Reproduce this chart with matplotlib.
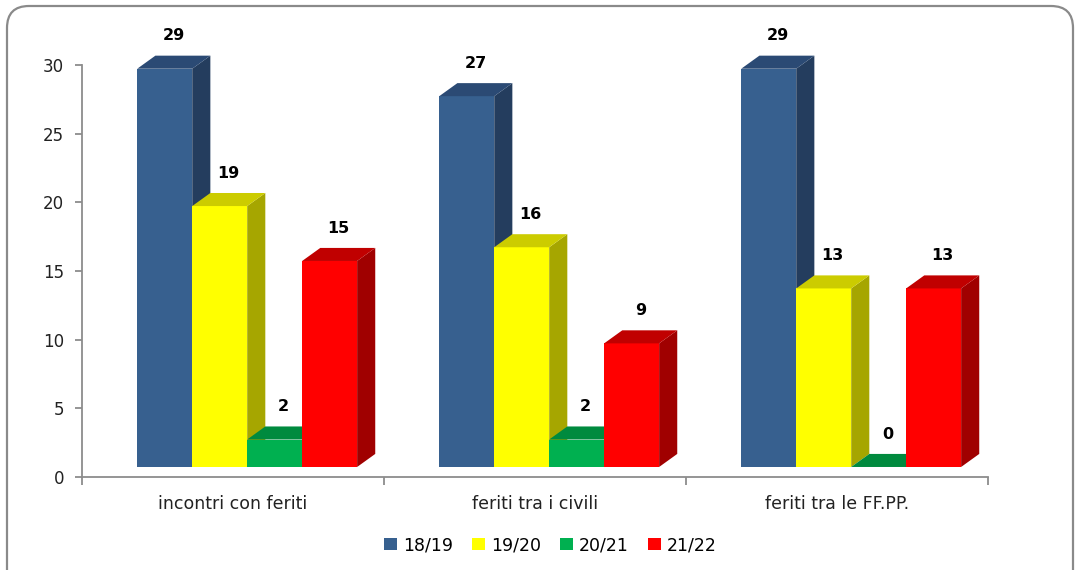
import matplotlib
matplotlib.use("Agg")
import matplotlib.pyplot as plt
from matplotlib.patches import Polygon, FancyBboxPatch, Patch
from matplotlib.transforms import IdentityTransform

categories = ["incontri con feriti", "feriti tra i civili", "feriti tra le FF.PP."]
seasons = ["18/19", "19/20", "20/21", "21/22"]
values = {
    "18/19": [29, 27, 29],
    "19/20": [19, 16, 13],
    "20/21": [2, 2, 0],
    "21/22": [15, 9, 13],
}
yticks = [0, 5, 10, 15, 20, 25, 30]

# front, side, top shades for each season
colors = {
    "18/19": ("#37608f", "#243d5e", "#2b4a74"),
    "19/20": ("#ffff00", "#a6a600", "#cccc00"),
    "20/21": ("#00b050", "#00843c", "#008a3e"),
    "21/22": ("#ff0000", "#a00000", "#c00000"),
}

W, H = 1075, 570
fig = plt.figure(figsize=(W / 100, H / 100), dpi=100)
fig.patch.set_facecolor("white")

# rounded outer frame
frame = FancyBboxPatch((7, -60), 1066, 624, boxstyle="round,pad=0,rounding_size=22",
                       transform=IdentityTransform(), facecolor="white",
                       edgecolor="#8a8a8a", linewidth=1.6, zorder=0)
fig.add_artist(frame)

ax = fig.add_axes([82 / W, 1 - 477 / H, (988 - 82) / W, (477 - 65) / H])
ax.set_facecolor("none")
ax.set_xlim(-0.5, 2.5)
ax.set_ylim(0, 30)

bar_w = 0.182          # width of each front face
start = -0.317         # left edge of first bar relative to category centre
dx, dy = 0.06, 0.95    # depth offset of the 3D effect
base = 0.73            # front-face floor height

for ci in range(len(categories)):
    for si, s in enumerate(seasons):
        v = values[s][ci]
        front_c, side_c, top_c = colors[s]
        x0 = ci + start + si * bar_w
        x1 = x0 + bar_w
        y0 = base
        y1 = base + v
        faces = [
            ([(x0, y0), (x1, y0), (x1, y1), (x0, y1)], front_c),
            ([(x1, y0), (x1 + dx, y0 + dy), (x1 + dx, y1 + dy), (x1, y1)], side_c),
            ([(x0, y1), (x0 + dx, y1 + dy), (x1 + dx, y1 + dy), (x1, y1)], top_c),
        ]
        for pts, c in faces:
            ax.add_patch(Polygon(pts, closed=True, facecolor=c, edgecolor="none",
                                 zorder=3, clip_on=False))
        ax.text((x0 + x1) / 2 + dx / 2, y1 + dy + 1.45, str(v), ha="center", va="center",
                fontsize=11.5, fontweight="bold", color="black", zorder=5, clip_on=False)

for sp in ["top", "right"]:
    ax.spines[sp].set_visible(False)
for sp in ["left", "bottom"]:
    ax.spines[sp].set_color("#8c8c8c")
    ax.spines[sp].set_linewidth(1.3)

ax.set_yticks(yticks)
ax.set_yticklabels([str(t) for t in yticks], fontsize=12, color="#222222")
ax.tick_params(axis="y", length=5, width=1.3, color="#8c8c8c", pad=8)

ax.set_xticks([-0.5, 0.5, 1.5, 2.5])
ax.set_xticklabels([])
ax.set_xticks(range(len(categories)), minor=True)
ax.set_xticklabels(categories, minor=True, fontsize=12.5, color="#222222")
ax.tick_params(axis="x", which="major", length=6, width=1.3, color="#8c8c8c")
ax.tick_params(axis="x", which="minor", length=0, pad=13)

handles = [Patch(facecolor=colors[s][0], edgecolor="none") for s in seasons]
fig.legend(handles, seasons, loc="center", bbox_to_anchor=(0.512, 1 - 545 / H),
           ncol=4, frameon=False, fontsize=12.5, handlelength=0.75, handleheight=0.75,
           handletextpad=0.35, columnspacing=1.1)

fig.savefig("out.png", dpi=100)
